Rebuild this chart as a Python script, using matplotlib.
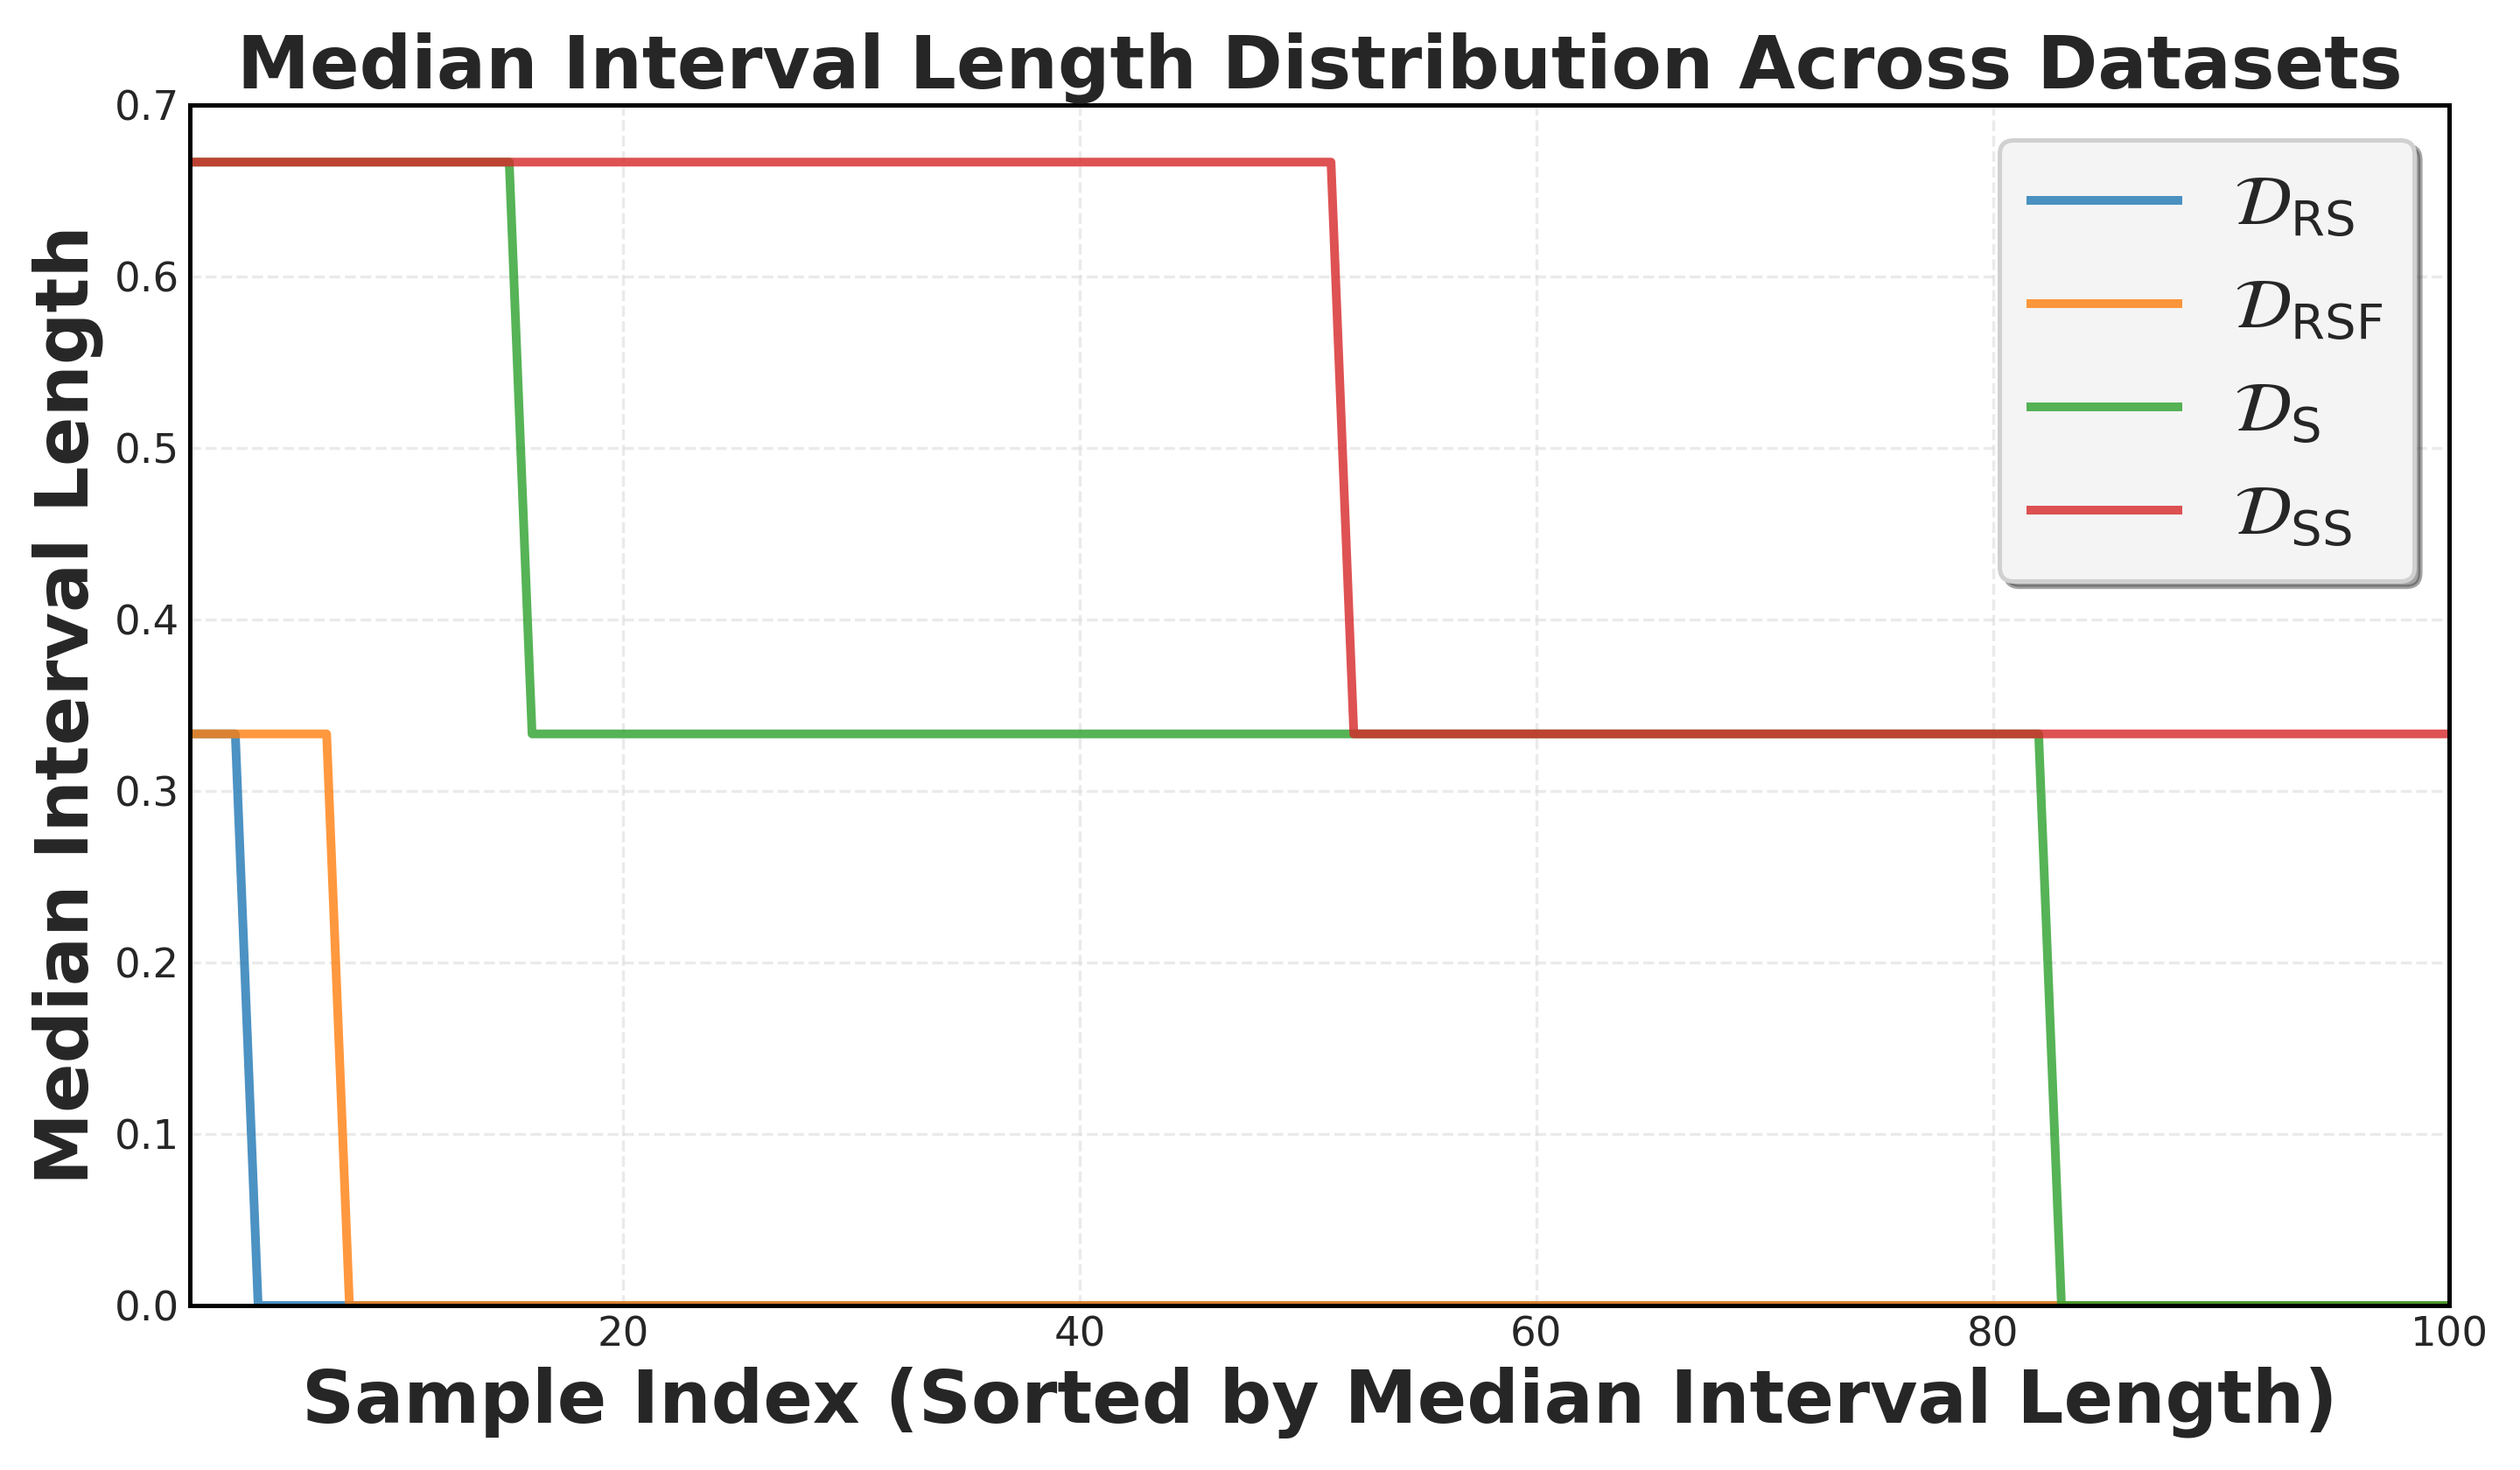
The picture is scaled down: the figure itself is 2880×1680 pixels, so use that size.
import numpy as np
import matplotlib
matplotlib.use("Agg")
import matplotlib.pyplot as plt

# Data: step levels and how many samples sit at each level
n_samples = 100
labels = [r'$\mathcal{D}_{\mathrm{RS}}$', r'$\mathcal{D}_{\mathrm{RSF}}$',
          r'$\mathcal{D}_{\mathrm{S}}$', r'$\mathcal{D}_{\mathrm{SS}}$']
rs_levels = [0.3333, 0.0]
rs_counts = [3, 97]
rsf_levels = [0.3333, 0.0]
rsf_counts = [7, 93]
s_levels = [0.6667, 0.3333, 0.0]
s_counts = [15, 67, 18]
ss_levels = [0.6667, 0.3333]
ss_counts = [51, 49]
colors = ['#1f77b4', '#ff7f0e', '#2ca02c', '#d62728']

series = [np.repeat(rs_levels, rs_counts), np.repeat(rsf_levels, rsf_counts),
          np.repeat(s_levels, s_counts), np.repeat(ss_levels, ss_counts)]
x = np.arange(1, n_samples + 1)

plt.rcParams['font.family'] = ['DejaVu Sans']
plt.rcParams['text.color'] = '#262626'
plt.rcParams['axes.labelcolor'] = '#262626'
plt.rcParams['xtick.color'] = '#262626'
plt.rcParams['ytick.color'] = '#262626'

fig, ax = plt.subplots(figsize=(12, 7), dpi=240)
for y, lab, c in zip(series, labels, colors):
    ax.plot(x, y, color=c, lw=3, alpha=0.8, label=lab)

ax.set_xlim(1, 100)
ax.set_ylim(0, 0.7)
ax.set_xticks([20, 40, 60, 80, 100])
ax.set_yticks(np.arange(0, 0.71, 0.1))
ax.tick_params(labelsize=14, length=0)
ax.grid(True, linestyle='--', color='#dddddd', alpha=0.6, lw=1)
for sp in ax.spines.values():
    sp.set_color('black')
    sp.set_linewidth(1.5)

ax.set_title('Median Interval Length Distribution Across Datasets', fontsize=25, fontweight='bold')
ax.set_xlabel('Sample Index (Sorted by Median Interval Length)', fontsize=25, fontweight='bold')
ax.set_ylabel('Median Interval Length', fontsize=25, fontweight='bold')

leg = ax.legend(loc='upper right', fontsize=24, frameon=True, fancybox=True, shadow=True,
                facecolor='#f4f4f4', edgecolor='#d0d0d0', framealpha=1, borderpad=0.45,
                labelspacing=0.5, handlelength=2.1)
leg.get_frame().set_linewidth(1.5)

fig.tight_layout()
fig.savefig('out.png', dpi=240)
